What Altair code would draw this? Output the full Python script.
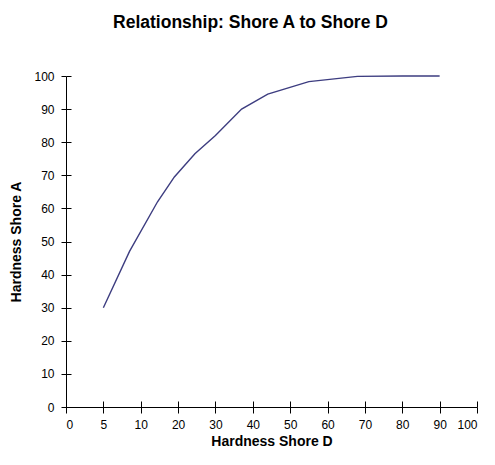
import altair as alt
import pandas as pd

# Category-like tick values on the horizontal axis (equally spaced)
x_ticks = [0, 5, 10, 20, 30, 40, 50, 60, 70, 80, 90, 100]
y_ticks = [0, 10, 20, 30, 40, 50, 60, 70, 80, 90, 100]

# Curve
shore_d = [5, 8.5, 14.5, 19, 24.5, 30, 37, 44, 55, 68, 80, 90]
shore_a = [30, 47, 62, 69.5, 76.5, 82, 90, 94.5, 98.3, 99.9, 100, 100]

df = pd.DataFrame({"D": shore_d, "A": shore_a})

W, H = 411, 331
step = W / (len(x_ticks) - 1)
x_range = [round(i * step, 2) for i in range(len(x_ticks))]

FONT = "Liberation Sans"
LINE_COLOR = "#3d3d80"

x_scale = alt.Scale(domain=x_ticks, range=x_range, clamp=False)
y_scale = alt.Scale(domain=[0, 100], nice=False)

base = alt.Chart(df)

main = base.mark_line(color=LINE_COLOR, strokeWidth=1.4).encode(
    x=alt.X("D:Q", scale=x_scale,
            axis=alt.Axis(values=x_ticks, title="Hardness Shore D", orient="bottom",
                          grid=False, domainColor="#000", tickColor="#000",
                          tickSize=6, domainWidth=1, tickWidth=1,
                          labelFont=FONT, labelFontSize=12, labelColor="#000",
                          labelPadding=6, titleFont=FONT, titleFontSize=14,
                          titleFontWeight="bold", titleColor="#000", titlePadding=4)),
    y=alt.Y("A:Q", scale=y_scale,
            axis=alt.Axis(values=y_ticks, title="Hardness Shore A", orient="left",
                          grid=False, domainColor="#000", tickColor="#000",
                          tickSize=5, domainWidth=1, tickWidth=1,
                          labelFont=FONT, labelFontSize=12, labelColor="#000",
                          labelPadding=7, titleFont=FONT, titleFontSize=14,
                          titleFontWeight="bold", titleColor="#000", titlePadding=10)),
)

inner = base.mark_line(opacity=0).encode(
    x=alt.X("D:Q", scale=x_scale,
            axis=alt.Axis(values=x_ticks, title=None, orient="bottom", grid=False,
                          domain=False, labels=False, tickColor="#000",
                          tickSize=6, tickWidth=1, offset=-6)),
    y=alt.Y("A:Q", scale=y_scale,
            axis=alt.Axis(values=y_ticks, title=None, orient="left", grid=False,
                          domain=False, labels=False, tickColor="#000",
                          tickSize=5, tickWidth=1, offset=-5)),
)

chart = alt.layer(main, inner).resolve_axis(x="independent", y="independent").properties(
    width=W,
    height=H,
    title=alt.TitleParams("Relationship: Shore A to Shore D", font=FONT, fontSize=17.5,
                          fontWeight="bold", color="#000", anchor="middle",
                          dx=-21, offset=39),
    autosize=alt.AutoSizeParams(type="none"),
    padding={"left": 58, "top": 68, "right": 10, "bottom": 42},
).configure_view(stroke=None)

chart.save("out.html", embed_options={"renderer": "svg", "actions": False})
